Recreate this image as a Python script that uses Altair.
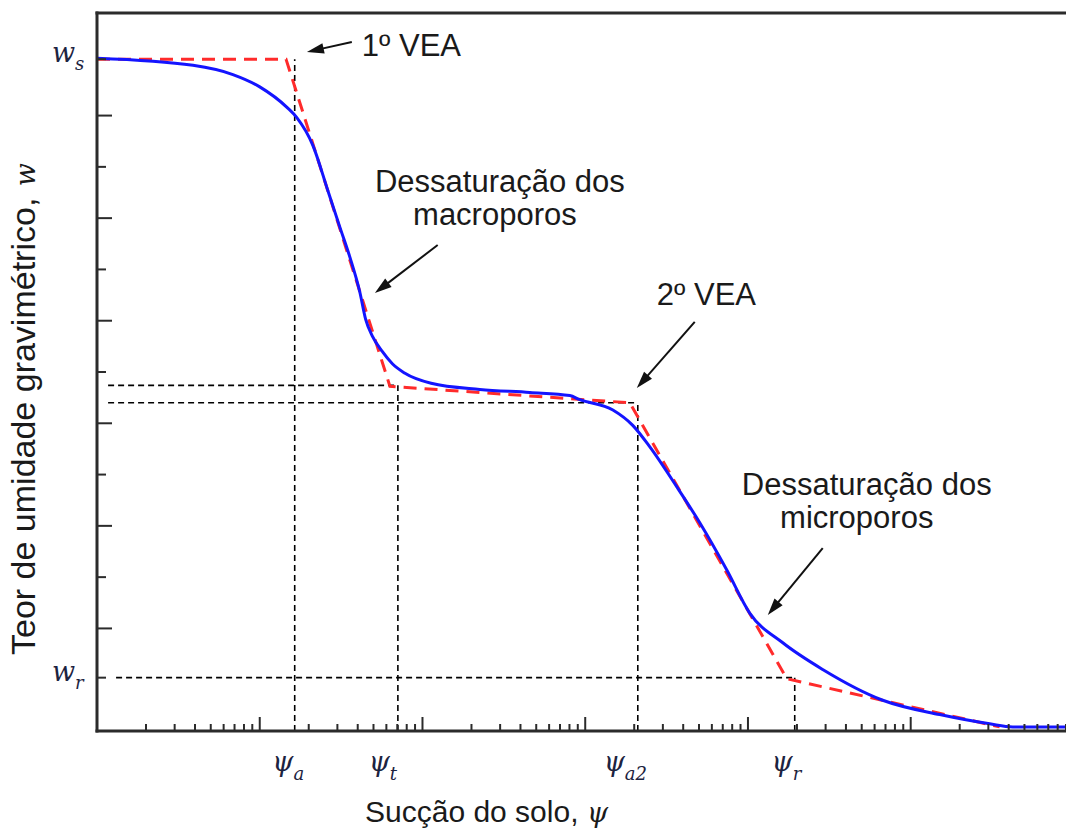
import math
import altair as alt
import pandas as pd

# ---------------------------------------------------------------- data
# Measured retention curve: soil suction (log axis) vs gravimetric water content
suction = [1, 3.89, 6.84, 10.0, 14.7, 16.9, 21.2, 26.2, 31.1, 35.8, 41.2, 44.8,
           49.2, 56.6, 65.3, 77.6, 113, 225, 457, 804, 927, 1479, 1959, 2495,
           3656, 5058, 7413, 10250, 16370, 28770, 67300, 150700, 305500, 423600,
           895000]
water = [6.56, 6.49, 6.40, 6.28, 6.08, 5.98, 5.71, 5.27, 4.91, 4.62, 4.28, 4.01,
         3.85, 3.70, 3.58, 3.49, 3.39, 3.33, 3.30, 3.27, 3.23, 3.13, 2.98, 2.77,
         2.38, 2.03, 1.57, 1.15, 0.86, 0.60, 0.30, 0.16, 0.07, 0.04, 0.04]

# Bimodal piecewise (log-linear) idealisation of the same curve
fit_suction = [1, 14.5, 63.1, 1879, 17300, 352000]
fit_water = [6.55, 6.55, 3.36, 3.20, 0.51, 0.04]

# Characteristic values
W_S = 6.55
W_R = 0.52
psi_keys = ["a", "t", "a2", "r"]
psi_at = [16.4, 70.6, 2104, 19380]
w_top = [W_S, 3.37, 3.20, W_R]
h_guide_from = [1.17, 1.17, 1.31]          # horizontal guides for t, a2, r

# Axis tick positions
y_major = [1, 2, 3, 4, 5, 6]
y_minor = [1.5, 2.5, 3.5, 4.5, 5.5, W_S, W_R]
x_major = [10, 100, 1000, 10000, 100000]
x_minor = [k * 10 ** d for d in range(6) for k in range(2, 10) if k * 10 ** d <= 9e5]

# Label anchors under the x axis (boundary between symbol and subscript)
psi_label_at = [16.1, 63.0, 1751, 18840]

# Call-out texts and arrows
note_left_text = ["1º VEA", "2º VEA"]
note_left_s = [42.4, 2754]
note_left_w = [6.581, 4.153]
note_center_text = ["Dessaturação dos", "macroporos", "Dessaturação dos", "microporos"]
note_center_s = [298.8, 278.6, 53700, 46600]
note_center_w = [5.255, 4.933, 2.301, 1.979]
arrow_tail_s = [36.8, 124, 4710, 28800]
arrow_tail_w = [6.717, 4.738, 3.988, 1.784]
arrow_tip_s = [19.5, 51.0, 2075, 13240]
arrow_tip_w = [6.62, 4.27, 3.344, 1.131]

# ---------------------------------------------------------------- layout
W, H = 969, 718
X_DOMAIN = [1, 9e5]
Y_DOMAIN = [0, 7]
LOG_SPAN = math.log10(X_DOMAIN[1] / X_DOMAIN[0])
HEAD = 17  # arrowhead length in px

SANS = "Liberation Sans"
SERIF = "DejaVu Serif"
INK = "#1a1a1a"
MATH_INK = "#1c2340"
AXIS_INK = "#2b2b2b"

xs = alt.Scale(type="log", domain=X_DOMAIN, nice=False)
ys = alt.Scale(domain=Y_DOMAIN, nice=False, zero=False)


def X(field):
    return alt.X(field, type="quantitative", scale=xs, axis=None)


def Y(field):
    return alt.Y(field, type="quantitative", scale=ys, axis=None)


def to_px(s, w):
    return (W * math.log10(s / X_DOMAIN[0]) / LOG_SPAN,
            H * (1 - (w - Y_DOMAIN[0]) / (Y_DOMAIN[1] - Y_DOMAIN[0])))


def to_data(px, py):
    return (X_DOMAIN[0] * 10 ** (px / W * LOG_SPAN),
            Y_DOMAIN[0] + (1 - py / H) * (Y_DOMAIN[1] - Y_DOMAIN[0]))


# ---------------------------------------------------------------- tables
curve = pd.DataFrame({"s": suction, "w": water})
fit = pd.DataFrame({"s": fit_suction, "w": fit_water})

guides = pd.DataFrame(
    [{"s": p, "s2": p, "w": Y_DOMAIN[0], "w2": wt} for p, wt in zip(psi_at, w_top)]
    + [{"s": a, "s2": p, "w": wt, "w2": wt}
       for a, p, wt in zip(h_guide_from, psi_at[1:], w_top[1:])]
)

arrow_rows, head_rows = [], []
for ts, tw, hs, hw in zip(arrow_tail_s, arrow_tail_w, arrow_tip_s, arrow_tip_w):
    tx, ty = to_px(ts, tw)
    hx, hy = to_px(hs, hw)
    L = math.hypot(hx - tx, hy - ty)
    dx, dy = (hx - tx) / L, (hy - ty) / L
    cx, cy = hx - dx * HEAD / 2, hy - dy * HEAD / 2
    cs, cw = to_data(cx, cy)
    arrow_rows.append({"s": ts, "w": tw, "s2": cs, "w2": cw})
    head_rows.append({"s": cs, "w": cw,
                      "angle": math.degrees(math.atan2(dx, -dy)) % 360})
arrows = pd.DataFrame(arrow_rows)
heads = pd.DataFrame(head_rows)

one = pd.DataFrame({"k": [0]})

# ---------------------------------------------------------------- layers
guide_layer = alt.Chart(guides).mark_rule(
    color="black", strokeWidth=1.6, strokeDash=[6, 4]
).encode(x=X("s"), x2="s2", y=Y("w"), y2="w2")

fit_layer = alt.Chart(fit).mark_line(
    color="#ff2b2b", strokeWidth=3, strokeDash=[13, 8]
).encode(x=X("s"), y=Y("w"))

curve_layer = alt.Chart(curve).mark_line(
    color="#1414ff", strokeWidth=3, interpolate="monotone"
).encode(x=X("s"), y=Y("w"))

# Frame: left and bottom axis lines plus the top edge
frame = alt.Chart(one).mark_rule(color=AXIS_INK, strokeWidth=3, strokeCap="square")
left_axis = frame.encode(x=alt.value(0), y=alt.value(0), y2=alt.value(H))
bottom_axis = frame.encode(x=alt.value(0), x2=alt.value(W), y=alt.value(H))
top_edge = frame.encode(x=alt.value(0), x2=alt.value(W), y=alt.value(0))

# Inward-pointing ticks
xt_major = alt.Chart(pd.DataFrame({"s": x_major})).mark_rule(
    color=AXIS_INK, strokeWidth=2
).encode(x=X("s"), y=alt.value(H), y2=alt.value(H - 14))
xt_minor = alt.Chart(pd.DataFrame({"s": x_minor})).mark_rule(
    color=AXIS_INK, strokeWidth=2
).encode(x=X("s"), y=alt.value(H), y2=alt.value(H - 7))
yt_major = alt.Chart(pd.DataFrame({"w": y_major})).mark_rule(
    color=AXIS_INK, strokeWidth=2
).encode(y=Y("w"), x=alt.value(0), x2=alt.value(15))
yt_minor = alt.Chart(pd.DataFrame({"w": y_minor})).mark_rule(
    color=AXIS_INK, strokeWidth=2
).encode(y=Y("w"), x=alt.value(0), x2=alt.value(9))

arrow_layer = alt.Chart(arrows).mark_rule(color="#111111", strokeWidth=2).encode(
    x=X("s"), x2="s2", y=Y("w"), y2="w2")
head_layer = alt.Chart(heads).mark_point(
    shape="M0,-1L0.62,1L-0.62,1Z", size=HEAD * HEAD, filled=True, opacity=1,
    color="#111111", strokeWidth=0
).encode(x=X("s"), y=Y("w"), angle=alt.Angle("angle:Q", scale=None))

notes_left = alt.Chart(pd.DataFrame(
    {"s": note_left_s, "w": note_left_w, "t": note_left_text})).mark_text(
    font=SANS, fontSize=31, align="left", baseline="alphabetic", color=INK
).encode(x=X("s"), y=Y("w"), text="t:N")
notes_center = alt.Chart(pd.DataFrame(
    {"s": note_center_s, "w": note_center_w, "t": note_center_text})).mark_text(
    font=SANS, fontSize=31, align="center", baseline="alphabetic", color=INK
).encode(x=X("s"), y=Y("w"), text="t:N")

# ψ labels below the x axis
psi_df = pd.DataFrame({"s": psi_label_at, "sub": psi_keys, "main": ["ψ"] * 4})
psi_main = alt.Chart(psi_df).mark_text(
    font=SERIF, fontStyle="italic", fontSize=27, align="right",
    baseline="alphabetic", color=MATH_INK
).encode(x=X("s"), y=alt.value(H + 40), text="main:N")
psi_sub = alt.Chart(psi_df).mark_text(
    font=SERIF, fontStyle="italic", fontSize=18, align="left",
    baseline="alphabetic", color=MATH_INK
).encode(x=X("s"), y=alt.value(H + 49), text="sub:N")

# w_s / w_r labels beside the y axis
w_df = pd.DataFrame({"w": [W_S, W_R], "sub": ["s", "r"], "main": ["w", "w"]})
w_main = alt.Chart(w_df).mark_text(
    font=SERIF, fontStyle="italic", fontSize=27, align="right",
    baseline="alphabetic", color=MATH_INK, dy=3
).encode(y=Y("w"), x=alt.value(-22), text="main:N")
w_sub = alt.Chart(w_df).mark_text(
    font=SERIF, fontStyle="italic", fontSize=18, align="left",
    baseline="alphabetic", color=MATH_INK, dy=11
).encode(y=Y("w"), x=alt.value(-22), text="sub:N")

# Axis titles (sans text followed by an italic symbol)
xtitle_sans = alt.Chart(one).mark_text(
    text="Sucção do solo,", font=SANS, fontSize=30, align="left",
    baseline="alphabetic", color=INK
).encode(x=alt.value(268), y=alt.value(H + 91))
xtitle_sym = alt.Chart(one).mark_text(
    text="ψ", font=SERIF, fontStyle="italic", fontSize=27, align="left",
    baseline="alphabetic", color=INK
).encode(x=alt.value(490), y=alt.value(H + 91))
ytitle_sans = alt.Chart(one).mark_text(
    text="Teor de umidade gravimétrico,", font=SANS, fontSize=34, align="left",
    baseline="alphabetic", angle=270, color=INK
).encode(x=alt.value(-62), y=alt.value(642))
ytitle_sym = alt.Chart(one).mark_text(
    text="w", font=SERIF, fontStyle="italic", fontSize=27, align="right",
    baseline="alphabetic", angle=270, color=INK
).encode(x=alt.value(-62), y=alt.value(150))

chart = alt.layer(
    guide_layer, fit_layer, curve_layer,
    left_axis, bottom_axis, top_edge,
    xt_major, xt_minor, yt_major, yt_minor,
    arrow_layer, head_layer, notes_left, notes_center,
    psi_main, psi_sub, w_main, w_sub,
    xtitle_sans, xtitle_sym, ytitle_sans, ytitle_sym,
).properties(
    width=W, height=H,
    autosize=alt.AutoSizeParams(type="none"),
    padding={"left": 97, "top": 13, "right": 0, "bottom": 102},
    background="white",
).configure_view(stroke=None)

chart.save("out.html", embed_options={"renderer": "svg", "actions": False})
